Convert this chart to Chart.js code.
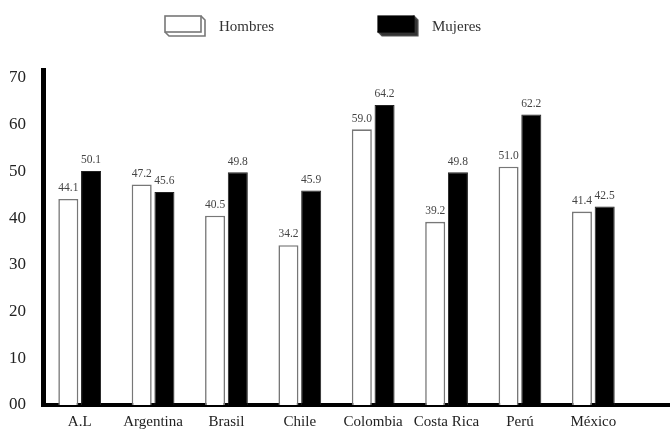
<!DOCTYPE html>
<html>
<head>
<meta charset="utf-8">
<script src="https://cdn.jsdelivr.net/npm/chart.js@4/dist/chart.umd.min.js"></script>
<style>
  html, body { margin: 0; padding: 0; background: #fff; overflow: hidden; }
  #wrap { position: relative; width: 670px; height: 431px; }
  #chart { display: block; }
  #legend { position: absolute; top: 12px; left: 0; width: 670px; height: 30px;
            font-family: "Liberation Serif", "DejaVu Serif", serif; font-size: 15px; color: #333; }
  .item { position: absolute; top: 2px; display: flex; align-items: center; }
  .item svg { margin-right: 12px; }
</style>
</head>
<body>
<div id="wrap">
  <canvas id="chart" width="670" height="431"></canvas>
  <div id="legend">
    <div class="item" style="left:163px">
      <svg width="44" height="24" viewBox="0 0 44 24">
        <path d="M38 2 L42 6 L42 22 L6 22 L2 18" fill="#fff" stroke="#777" stroke-width="1.6"/>
        <rect x="2" y="2" width="36" height="16" fill="#fff" stroke="#777" stroke-width="1.6"/>
      </svg>Hombres
    </div>
    <div class="item" style="left:376px">
      <svg width="44" height="24" viewBox="0 0 44 24">
        <path d="M38 2 L42 6 L42 22 L6 22 L2 18 Z" fill="#333" stroke="#555" stroke-width="1.2"/>
        <rect x="2" y="2" width="36" height="16" fill="#000" stroke="#000" stroke-width="1.2"/>
      </svg>Mujeres
    </div>
  </div>
</div>
<script>
const categories = ['A.L', 'Argentina', 'Brasil', 'Chile', 'Colombia', 'Costa Rica', 'Perú', 'México'];
const hombres = [44.1, 47.2, 40.5, 34.2, 59.0, 39.2, 51.0, 41.4];
const mujeres = [50.1, 45.6, 49.8, 45.9, 64.2, 49.8, 62.2, 42.5];
const yTicks = [0, 10, 20, 30, 40, 50, 60, 70];

const serif = '"Liberation Serif", "DejaVu Serif", serif';

// value labels above each bar
const valueLabels = {
  id: 'valueLabels',
  afterDatasetsDraw(chart) {
    const ctx = chart.ctx;
    ctx.save();
    ctx.font = '11.5px ' + serif;
    ctx.fillStyle = '#444';
    ctx.textAlign = 'center';
    ctx.textBaseline = 'bottom';
    chart.data.datasets.forEach((ds, i) => {
      chart.getDatasetMeta(i).data.forEach((bar, j) => {
        ctx.fillText(ds.data[j].toFixed(1), bar.x, bar.y - 5);
      });
    });
    ctx.restore();
  }
};

// the x axis line runs on to the right edge
const longAxis = {
  id: 'longAxis',
  afterDraw(chart) {
    const ctx = chart.ctx;
    const y = chart.chartArea.bottom;
    ctx.save();
    ctx.strokeStyle = '#000';
    ctx.lineWidth = 4;
    ctx.beginPath();
    ctx.moveTo(chart.chartArea.right - 2, y);
    ctx.lineTo(chart.width, y);
    ctx.stroke();
    ctx.restore();
  }
};

new Chart(document.getElementById('chart'), {
  type: 'bar',
  data: {
    labels: categories,
    datasets: [
      { label: 'Hombres', data: hombres, backgroundColor: '#fff', borderColor: '#777', borderWidth: 1.6 },
      { label: 'Mujeres', data: mujeres, backgroundColor: '#000', borderColor: '#222', borderWidth: 1 }
    ]
  },
  options: {
    responsive: false,
    animation: false,
    categoryPercentage: 0.62,
    barPercentage: 0.88,
    layout: { padding: { top: 70, right: 40, left: 0, bottom: 0 } },
    plugins: { legend: { display: false }, tooltip: { enabled: false } },
    scales: {
      x: {
        grid: { display: false },
        border: { display: true, color: '#000', width: 4 },
        ticks: { font: { family: serif, size: 15 }, color: '#222', padding: 0 }
      },
      y: {
        min: 0,
        max: 71.7,
        afterBuildTicks(axis) { axis.ticks = yTicks.map(v => ({ value: v })); },
        grid: { display: false },
        border: { display: true, color: '#000', width: 5 },
        ticks: {
          font: { family: serif, size: 17 },
          color: '#222',
          padding: 9,
          callback: v => (v === 0 ? '00' : String(v))
        }
      }
    }
  },
  plugins: [valueLabels, longAxis]
});
</script>
</body>
</html>
